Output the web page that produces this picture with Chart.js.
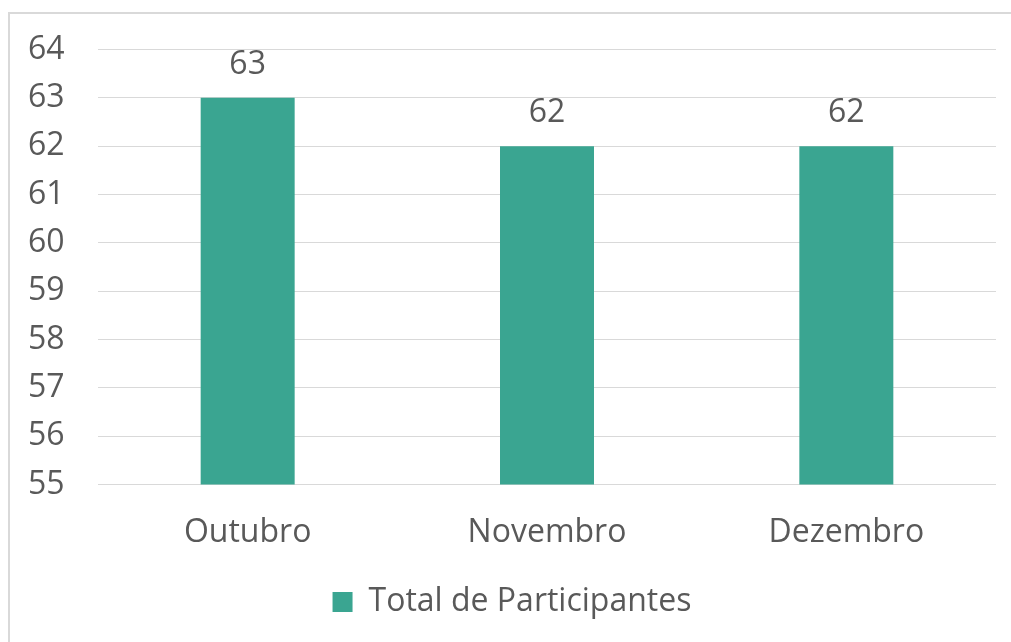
<!DOCTYPE html>
<html>
<head>
<meta charset="utf-8">
<script src="https://cdn.jsdelivr.net/npm/chart.js@4"></script>
<style>
  html, body { margin: 0; padding: 0; background: #ffffff; overflow: hidden; }
  #frame {
    position: absolute; left: 8px; top: 12px;
    width: 1001px; height: 628px;
    border-left: 2px solid #d9d9d9; border-top: 2px solid #d9d9d9;
  }
  #wrap { position: absolute; left: 0; top: 0; width: 1001px; height: 628px; }
</style>
</head>
<body>
<div id="frame"><div id="wrap"><canvas id="c"></canvas></div></div>
<script>
const categories = ["Outubro", "Novembro", "Dezembro"];
const seriesName = "Total de Participantes";
const values = [63, 62, 62];
const yTicks = [55, 56, 57, 58, 59, 60, 61, 62, 63, 64];

const FONT = "'Open Sans', 'DejaVu Sans', sans-serif";
const TEXT = "#595959";
const BAR = "#3aa591";
const FS = 32;

const valueLabels = {
  id: "valueLabels",
  afterDatasetsDraw(chart) {
    const ctx = chart.ctx;
    ctx.save();
    ctx.font = FS + "px " + FONT;
    ctx.fillStyle = TEXT;
    ctx.textAlign = "center";
    ctx.textBaseline = "middle";
    chart.getDatasetMeta(0).data.forEach((bar, i) => {
      ctx.fillText(String(values[i]), bar.x, bar.y - 33);
    });
    ctx.restore();
  }
};

new Chart(document.getElementById("c"), {
  type: "bar",
  data: {
    labels: categories,
    datasets: [{
      label: seriesName,
      data: values,
      backgroundColor: BAR,
      borderWidth: 0,
      categoryPercentage: 1,
      barPercentage: 0.314
    }]
  },
  options: {
    responsive: true,
    maintainAspectRatio: false,
    animation: false,
    layout: { padding: { top: 35.5, right: 15, bottom: 14, left: 18 } },
    plugins: {
      tooltip: { enabled: false },
      legend: {
        position: "bottom",
        labels: {
          color: TEXT,
          font: { family: FONT, size: FS },
          boxWidth: 20,
          boxHeight: 20,
          padding: 5
        }
      }
    },
    scales: {
      x: {
        grid: { display: false, drawTicks: false },
        border: { display: false },
        ticks: { color: TEXT, font: { family: FONT, size: FS }, padding: 29 }
      },
      y: {
        min: 55, max: 64,
        afterFit(scale) { scale.width = 70; },
        afterBuildTicks(scale) { scale.ticks = yTicks.map(v => ({ value: v })); },
        grid: { color: "#d9d9d9", lineWidth: 1, drawTicks: false },
        border: { display: false },
        ticks: { color: TEXT, font: { family: FONT, size: FS }, padding: 0, crossAlign: "far" }
      }
    }
  },
  plugins: [valueLabels]
});
</script>
</body>
</html>
